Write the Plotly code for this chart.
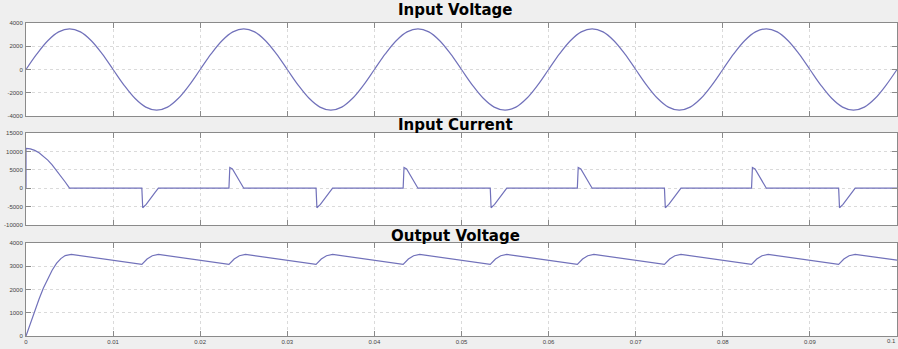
import plotly.graph_objects as go

# ---------------- data ----------------
# Input voltage, sampled every 0.00125 s
vin_t = [i * 0.00125 for i in range(81)]
vin_v = [0, 1340, 2475, 3234, 3500, 3234, 2475, 1340,
         0, -1340, -2475, -3234, -3500, -3234, -2475, -1340,
         0, 1340, 2475, 3234, 3500, 3234, 2475, 1340,
         0, -1340, -2475, -3234, -3500, -3234, -2475, -1340,
         0, 1340, 2475, 3234, 3500, 3234, 2475, 1340,
         0, -1340, -2475, -3234, -3500, -3234, -2475, -1340,
         0, 1340, 2475, 3234, 3500, 3234, 2475, 1340,
         0, -1340, -2475, -3234, -3500, -3234, -2475, -1340,
         0, 1340, 2475, 3234, 3500, 3234, 2475, 1340,
         0, -1340, -2475, -3234, -3500, -3234, -2475, -1340,
         0]

# Input current
iin_t = [0, 0, 0.0005, 0.001, 0.0015, 0.002, 0.0025, 0.003, 0.0035, 0.004, 0.0045, 0.005,
         0.0133, 0.0134, 0.0138, 0.0148, 0.0152,
         0.0233, 0.0234, 0.0237, 0.0250,
         0.0333, 0.0334, 0.0338, 0.0348, 0.0352,
         0.0433, 0.0434, 0.0437, 0.0450,
         0.0533, 0.0534, 0.0538, 0.0548, 0.0552,
         0.0633, 0.0634, 0.0637, 0.0650,
         0.0733, 0.0734, 0.0738, 0.0748, 0.0752,
         0.0833, 0.0834, 0.0837, 0.0850,
         0.0933, 0.0934, 0.0938, 0.0948, 0.0952,
         0.1]
iin_v = [0, 10800, 10670, 10270, 9620, 8740, 7640, 6350, 4900, 3340, 1690, 0,
         0, -5300, -4400, -1200, 0,
         0, 5600, 5200, 0,
         0, -5300, -4400, -1200, 0,
         0, 5600, 5200, 0,
         0, -5300, -4400, -1200, 0,
         0, 5600, 5200, 0,
         0, -5300, -4400, -1200, 0,
         0, 5600, 5200, 0,
         0, -5300, -4400, -1200, 0,
         0]

# Output voltage
vout_t = [0, 0.0005, 0.001, 0.0015, 0.002, 0.0025, 0.003, 0.0035, 0.004, 0.0045, 0.0052,
          0.0133, 0.0139, 0.0145, 0.0152,
          0.0233, 0.0239, 0.0245, 0.0252,
          0.0333, 0.0339, 0.0345, 0.0352,
          0.0433, 0.0439, 0.0445, 0.0452,
          0.0533, 0.0539, 0.0545, 0.0552,
          0.0633, 0.0639, 0.0645, 0.0652,
          0.0733, 0.0739, 0.0745, 0.0752,
          0.0833, 0.0839, 0.0845, 0.0852,
          0.0933, 0.0939, 0.0945, 0.0952,
          0.1]
vout_v = [0, 540, 1080, 1590, 2060, 2470, 2830, 3120, 3330, 3460, 3510,
          3080, 3310, 3450, 3510,
          3080, 3310, 3450, 3510,
          3080, 3310, 3450, 3510,
          3080, 3310, 3450, 3510,
          3080, 3310, 3450, 3510,
          3080, 3310, 3450, 3510,
          3080, 3310, 3450, 3510,
          3080, 3310, 3450, 3510,
          3080, 3310, 3450, 3510,
          3260]

titles = ["Input Voltage", "Input Current", "Output Voltage"]
x_ticks = [0, 0.01, 0.02, 0.03, 0.04, 0.05, 0.06, 0.07, 0.08, 0.09, 0.1]
x_labels = ["0", "0.01", "0.02", "0.03", "0.04", "0.05", "0.06", "0.07", "0.08", "0.09", "0.1"]
y1_ticks = [-4000, -2000, 0, 2000, 4000]
y1_labels = ["-4000", "-2000", "0", "2000", "4000"]
y2_ticks = [-10000, -5000, 0, 5000, 10000, 15000]
y2_labels = ["-10000", "-5000", "0", "5000", "10000", "15000"]
y3_ticks = [0, 1000, 2000, 3000, 4000]
y3_labels = ["0", "1000", "2000", "3000", "4000"]

# ---------------- figure ----------------
W, H = 898, 349
ML, MR, MT, MB = 26, 1, 0, 13
PH = H - MT - MB

def pfrac(ypix):
    return (H - MB - ypix) / PH

LINE = dict(color="#7171ba", width=1.2)
fig = go.Figure()
fig.add_trace(go.Scatter(x=vin_t, y=vin_v, mode="lines", line=dict(shape="spline", **LINE),
                         xaxis="x", yaxis="y", showlegend=False))
fig.add_trace(go.Scatter(x=iin_t, y=iin_v, mode="lines", line=LINE,
                         xaxis="x2", yaxis="y2", showlegend=False))
fig.add_trace(go.Scatter(x=vout_t, y=vout_v, mode="lines", line=LINE,
                         xaxis="x3", yaxis="y3", showlegend=False))

domains = [(pfrac(116), pfrac(23)), (pfrac(225), pfrac(133)), (pfrac(336), pfrac(243))]
yranges = [(-4000, 4000), (-10000, 15000), (0, 4000)]
yticks = [y1_ticks, y2_ticks, y3_ticks]
ylabels = [y1_labels, y2_labels, y3_labels]

TICKFONT = dict(size=6, color="#444444", family="Liberation Sans, Arial, sans-serif")
axis_common = dict(showline=True, linecolor="#8a8a8a", linewidth=1, mirror="ticks",
                   ticks="inside", ticklen=5, tickcolor="#8a8a8a", automargin=False,
                   showgrid=True, gridcolor="#dadada", griddash="dot", gridwidth=1,
                   zeroline=False, tickfont=TICKFONT)

# last x label sits on the right edge: draw it as a right-aligned annotation so it stays whole
bottom_labels = x_labels[:-1] + [""]

layout = dict(width=W, height=H, margin=dict(l=ML, r=MR, t=MT, b=MB, autoexpand=False),
              paper_bgcolor="#efefef", plot_bgcolor="#ffffff", showlegend=False)
for i in range(3):
    n = "" if i == 0 else str(i + 1)
    layout["xaxis" + n] = dict(axis_common, range=[0, 0.1], tickvals=x_ticks, ticktext=bottom_labels,
                               showticklabels=(i == 2), anchor="y" + n, domain=[0, 1])
    layout["yaxis" + n] = dict(axis_common, range=list(yranges[i]), tickvals=yticks[i],
                               ticktext=ylabels[i], domain=list(domains[i]), anchor="x" + n,
                               ticklabelstandoff=1)
fig.update_layout(**layout)

fig.add_annotation(text=x_labels[-1], xref="x3", yref="paper", x=x_ticks[-1], y=0,
                   xanchor="right", yanchor="top", showarrow=False, yshift=-1,
                   font=TICKFONT, borderpad=0)

title_y = [10, 125, 236]
for t, yp in zip(titles, title_y):
    fig.add_annotation(text="<b>" + t + "</b>", xref="paper", yref="paper", x=0.493, y=pfrac(yp),
                       xanchor="center", yanchor="middle", showarrow=False,
                       font=dict(size=15, color="#000000", family="DejaVu Sans, sans-serif"))

fig.write_html("out.html", config={"displayModeBar": False},
               post_script="document.body.style.margin='0';document.body.style.overflow='hidden';")
